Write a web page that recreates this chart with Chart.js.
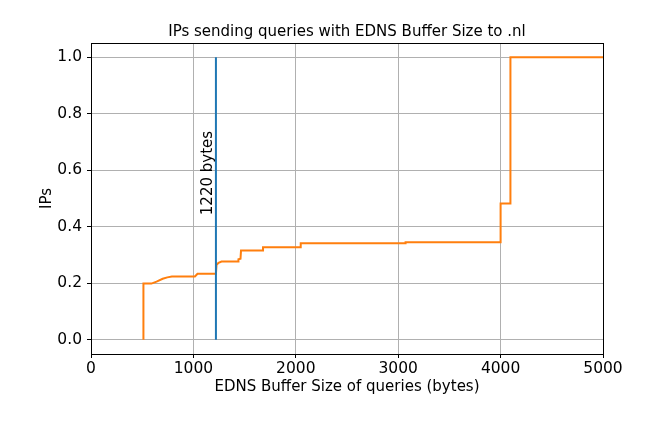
<!DOCTYPE html>
<html>
<head>
<meta charset="utf-8">
<script src="https://cdn.jsdelivr.net/npm/chart.js@4/dist/chart.umd.min.js"></script>
<style>
  html, body { margin: 0; padding: 0; background: #fff; }
  #wrap { width: 648px; height: 432px; }
</style>
</head>
<body>
<div id="wrap"><canvas id="cdf" width="648" height="432"></canvas></div>
<script>
// cumulative share of IPs by EDNS buffer size (corner points of the step curve)
var bufferSizes = [512, 512, 590, 640, 700, 745, 790, 1015, 1040, 1220, 1226, 1245, 1275, 1437, 1440, 1460, 1465, 1680, 1680, 2048, 2048, 3072, 3072, 4000, 4000, 4096, 4096, 5000];
var ipShare     = [0, 0.199, 0.199, 0.206, 0.216, 0.221, 0.224, 0.224, 0.234, 0.234, 0.266, 0.272, 0.277, 0.277, 0.285, 0.287, 0.316, 0.316, 0.328, 0.328, 0.342, 0.342, 0.345, 0.345, 0.482, 0.482, 1.0, 1.0];

// vertical marker at 1220 bytes
var markerX = [1220, 1220];
var markerY = [0, 1];
var markerText = '1220 bytes';
var markerTextX = 1180;
var markerTextY = 0.59;

var xTicks = [0, 1000, 2000, 3000, 4000, 5000];
var yTicks = [0, 0.2, 0.4, 0.6, 0.8, 1.0];

Chart.defaults.font.family = 'DejaVu Sans';
Chart.defaults.color = '#000';

function toPoints(xs, ys) {
    return xs.map((x, i) => ({ x: x, y: ys[i] }));
}

// black box around the plot + rotated marker label
var framePlugin = {
    id: 'frame',
    afterDatasetsDraw(chart) {
        let ctx = chart.ctx;
        let a = chart.chartArea;
        ctx.save();
        ctx.strokeStyle = '#000';
        ctx.lineWidth = 1;
        ctx.strokeRect(Math.round(a.left) + 0.5, Math.round(a.top) + 0.5,
            Math.round(a.right - a.left), Math.round(a.bottom - a.top));

        let px = chart.scales.x.getPixelForValue(markerTextX);
        let py = chart.scales.y.getPixelForValue(markerTextY);
        ctx.translate(px, py);
        ctx.rotate(-Math.PI / 2);
        ctx.fillStyle = '#000';
        ctx.font = '15px "DejaVu Sans"';
        ctx.textAlign = 'center';
        ctx.textBaseline = 'alphabetic';
        ctx.fillText(markerText, 0, 0);
        ctx.restore();
    }
};

new Chart(document.getElementById('cdf'), {
    type: 'scatter',
    data: {
        datasets: [
            {
                label: 'marker',
                data: toPoints(markerX, markerY),
                showLine: true,
                borderColor: '#1f77b4',
                borderWidth: 2,
                pointRadius: 0
            },
            {
                label: 'IPs',
                data: toPoints(bufferSizes, ipShare),
                showLine: true,
                borderColor: '#ff7f0e',
                borderWidth: 2,
                pointRadius: 0
            }
        ]
    },
    options: {
        responsive: false,
        animation: false,
        layout: { padding: { left: 0, right: 45, top: 0, bottom: 0 } },
        plugins: {
            legend: { display: false },
            tooltip: { enabled: false },
            title: {
                display: true,
                fullSize: false,
                text: 'IPs sending queries with EDNS Buffer Size to .nl',
                color: '#000',
                font: { size: 15, weight: 'normal' },
                padding: { top: 23, bottom: 2 }
            }
        },
        scales: {
            x: {
                type: 'linear',
                min: 0,
                max: 5000,
                afterBuildTicks: (s) => { s.ticks = xTicks.map(v => ({ value: v })); },
                afterFit: (s) => { s.height = 78; },
                border: { display: false },
                grid: { color: '#b0b0b0', lineWidth: 1, tickColor: '#000', tickLength: 4 },
                ticks: {
                    font: { size: 15.5 },
                    padding: 2,
                    maxRotation: 0,
                    callback: (v) => String(v)
                },
                title: {
                    display: true,
                    text: 'EDNS Buffer Size of queries (bytes)',
                    font: { size: 15 },
                    padding: { top: 0, bottom: 36 }
                }
            },
            y: {
                type: 'linear',
                min: -0.05,
                max: 1.05,
                afterBuildTicks: (s) => { s.ticks = yTicks.map(v => ({ value: v })); },
                afterFit: (s) => { s.width = 91; },
                border: { display: false },
                grid: { color: '#b0b0b0', lineWidth: 1, tickColor: '#000', tickLength: 4 },
                ticks: {
                    font: { size: 15.5 },
                    padding: 5,
                    callback: (v) => v.toFixed(1)
                },
                title: {
                    display: true,
                    text: 'IPs',
                    font: { size: 15 },
                    padding: { top: 38, bottom: 0 }
                }
            }
        }
    },
    plugins: [framePlugin]
});
</script>
</body>
</html>
